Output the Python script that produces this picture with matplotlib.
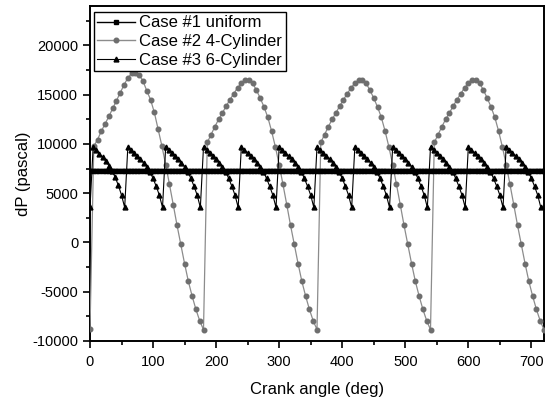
import matplotlib
matplotlib.use("Agg")
import matplotlib.pyplot as plt
from matplotlib.ticker import MultipleLocator

plt.rcParams['font.family'] = ['Liberation Sans', 'DejaVu Sans']
plt.rcParams['axes.unicode_minus'] = False

# Case #1: uniform flow, constant pressure difference
x_uniform = list(range(0, 721, 5))
y_uniform = [7250] * len(x_uniform)

# Case #2: 4-cylinder, sampled every 6 deg (one cycle per line, 180 deg each)
x_4cyl = list(range(0, 721, 6))
y_4cyl = [
    -8800,
    9750, 10450, 11300, 12050, 12800, 13600, 14400, 15200, 16000, 16700,
    17150, 17200, 17000, 16400, 15400, 14500, 13200, 11500, 9800, 7900,
    5900, 3850, 1750, -200, -2150, -3950, -5450, -6800, -7950, -8850,
    10150, 10950, 11750, 12500, 13150, 13850, 14500, 15100, 15700, 16150,
    16450, 16450, 16150, 15450, 14650, 13750, 12700, 11300, 9700, 7900,
    5900, 3850, 1750, -200, -2150, -3950, -5450, -6800, -7950, -8850,
    10150, 10950, 11750, 12500, 13150, 13850, 14500, 15100, 15700, 16150,
    16450, 16450, 16150, 15450, 14650, 13750, 12700, 11300, 9700, 7900,
    5900, 3850, 1750, -200, -2150, -3950, -5450, -6800, -7950, -8850,
    10150, 10950, 11750, 12500, 13150, 13850, 14500, 15100, 15700, 16150,
    16450, 16450, 16150, 15450, 14650, 13750, 12700, 11300, 9700, 7900,
    5900, 3850, 1750, -200, -2150, -3950, -5450, -6800, -7950, -8850,
]

# Case #3: 6-cylinder, sampled every 5 deg (one tooth per line, 60 deg each)
x_6cyl = list(range(0, 720, 5))
y_6cyl = [
    3550, 9700, 9350, 9000, 8650, 8250, 7800, 7300, 6600, 5800, 4800, 3550,
    9700, 9400, 9100, 8800, 8450, 8100, 7700, 7200, 6500, 5700, 4800, 3550,
    9700, 9400, 9100, 8800, 8450, 8100, 7700, 7200, 6500, 5700, 4800, 3550,
    9700, 9400, 9100, 8800, 8450, 8100, 7700, 7200, 6500, 5700, 4800, 3550,
    9700, 9400, 9100, 8800, 8450, 8100, 7700, 7200, 6500, 5700, 4800, 3550,
    9700, 9400, 9100, 8800, 8450, 8100, 7700, 7200, 6500, 5700, 4800, 3550,
    9700, 9400, 9100, 8800, 8450, 8100, 7700, 7200, 6500, 5700, 4800, 3550,
    9700, 9400, 9100, 8800, 8450, 8100, 7700, 7200, 6500, 5700, 4800, 3550,
    9700, 9400, 9100, 8800, 8450, 8100, 7700, 7200, 6500, 5700, 4800, 3550,
    9700, 9400, 9100, 8800, 8450, 8100, 7700, 7200, 6500, 5700, 4800, 3550,
    9700, 9400, 9100, 8800, 8450, 8100, 7700, 7200, 6500, 5700, 4800, 3550,
    9700, 9400, 9100, 8800, 8450, 8100, 7700, 7200, 6500, 5700, 4800, 3550,
]

labels = ["Case #1 uniform", "Case #2 4-Cylinder", "Case #3 6-Cylinder"]

fig = plt.figure(figsize=(5.5, 3.97), dpi=100)
ax = fig.add_axes([90 / 550, 1 - 341 / 397, 454 / 550, 335 / 397])

ax.plot(x_uniform, y_uniform, color="black", lw=3.2, marker="s",
        markersize=2.4, label=labels[0], zorder=4)
ax.plot(x_4cyl, y_4cyl, color="#8c8c8c", lw=0.9, marker="o",
        markersize=3.3, markerfacecolor="#6e6e6e", markeredgecolor="#6e6e6e",
        label=labels[1], zorder=3)
ax.plot(x_6cyl, y_6cyl, color="black", lw=0.8, marker="^",
        markersize=3.5, label=labels[2], zorder=3)

ax.set_xlim(0, 720)
ax.set_ylim(-10000, 24000)
ax.xaxis.set_major_locator(MultipleLocator(100))
ax.xaxis.set_minor_locator(MultipleLocator(50))
ax.yaxis.set_major_locator(MultipleLocator(5000))
ax.yaxis.set_minor_locator(MultipleLocator(2500))
ax.tick_params(which="major", direction="out", length=5, width=1.2,
               labelsize=10.5)
ax.tick_params(axis="x", which="major", pad=5)
ax.tick_params(axis="y", which="major", pad=3.5)
ax.tick_params(which="minor", direction="out", length=3, width=1.2)
for s in ax.spines.values():
    s.set_linewidth(1.4)

ax.set_xlabel("Crank angle (deg)", fontsize=12)
ax.set_ylabel("dP (pascal)", fontsize=12)
ax.xaxis.set_label_coords(0.5, -0.122)
ax.yaxis.set_label_coords(-0.13, 0.5)

# legend handles: short line with a marker in the middle
leg = ax.legend(loc="upper left", bbox_to_anchor=(0.008, 0.982),
                borderaxespad=0, fontsize=12, frameon=True, fancybox=False,
                edgecolor="black", framealpha=1, handlelength=2.3,
                handletextpad=0.25, labelspacing=0.22, borderpad=0.2,
                markerscale=1.0, numpoints=1)
leg.get_frame().set_linewidth(1.0)
leg.legend_handles[0].set_linewidth(1.0)
leg.legend_handles[0].set_markersize(3.5)
leg.legend_handles[1].set_linewidth(1.0)

fig.savefig("out.png", dpi=100)
